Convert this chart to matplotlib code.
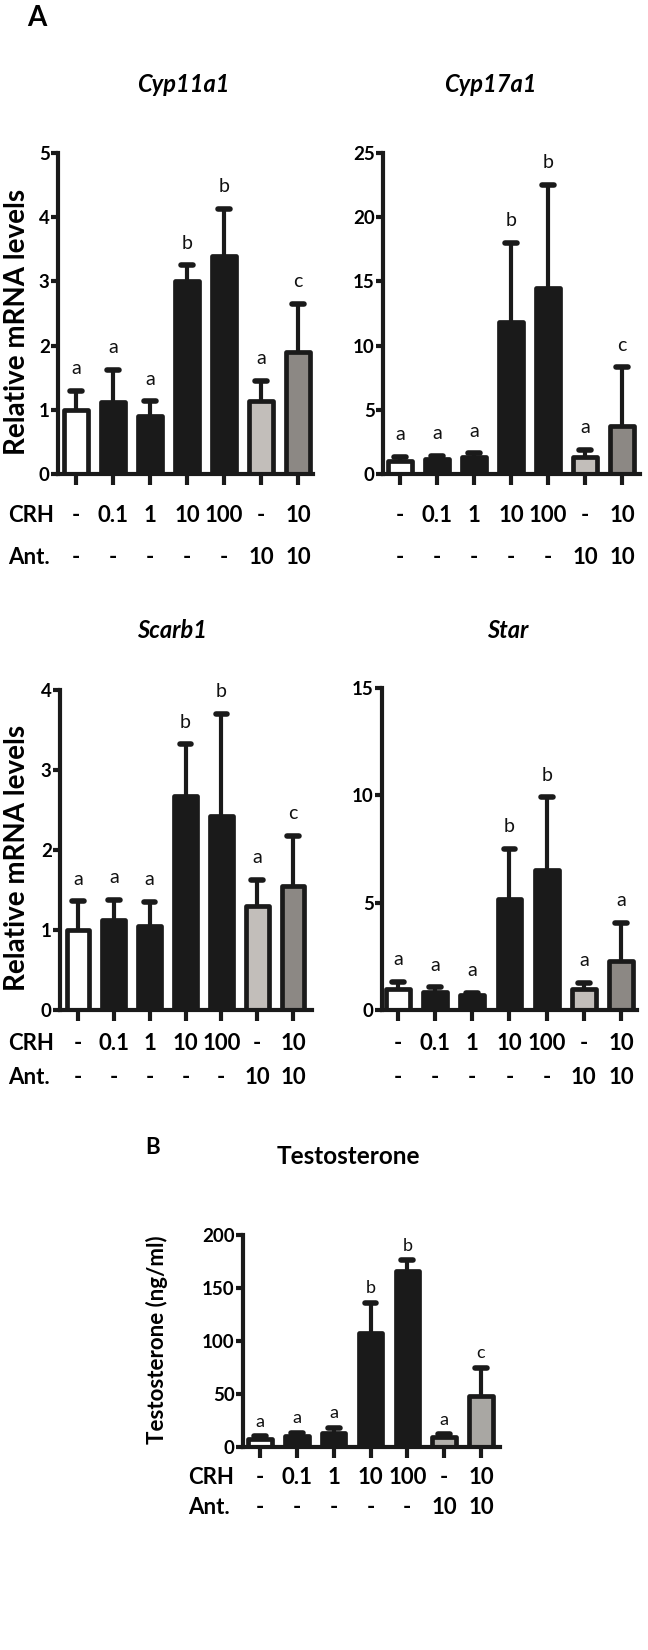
import matplotlib
matplotlib.use("Agg")
import matplotlib.pyplot as plt
from matplotlib import transforms

plt.rcParams["font.family"] = ["Lato", "DejaVu Sans"]

W, H = 648, 1650

# treatment rows under every panel
crh_row = ["-", "0.1", "1", "10", "100", "-", "10"]
ant_row = ["-", "-", "-", "-", "-", "10", "10"]

# panel A: relative mRNA levels (mean and top of error bar)
cyp11a1_mean = [1.0, 1.12, 0.9, 3.0, 3.4, 1.13, 1.9]
cyp11a1_err = [1.3, 1.62, 1.13, 3.25, 4.13, 1.45, 2.65]
cyp11a1_letters = ["a", "a", "a", "b", "b", "a", "c"]

cyp17a1_mean = [1.0, 1.15, 1.3, 11.8, 14.5, 1.35, 3.7]
cyp17a1_err = [1.35, 1.4, 1.6, 18.0, 22.5, 1.9, 8.3]
cyp17a1_letters = ["a", "a", "a", "b", "b", "a", "c"]

scarb1_mean = [1.0, 1.12, 1.05, 2.68, 2.43, 1.3, 1.55]
scarb1_err = [1.36, 1.38, 1.35, 3.32, 3.7, 1.63, 2.18]
scarb1_letters = ["a", "a", "a", "b", "b", "a", "c"]

star_mean = [1.0, 0.85, 0.7, 5.15, 6.5, 1.0, 2.3]
star_err = [1.3, 1.05, 0.8, 7.5, 9.9, 1.25, 4.05]
star_letters = ["a", "a", "a", "b", "b", "a", "a"]

# panel B: testosterone (ng/ml)
testo_mean = [8, 10, 13, 108, 166, 9, 48]
testo_err = [10, 13, 18, 136, 176, 12, 75]
testo_letters = ["a", "a", "a", "b", "b", "a", "c"]

DARK = "#1a1a1a"
fills_a = ["white", DARK, DARK, DARK, DARK, "#c2beba", "#8c8884"]
fills_b = ["white", DARK, DARK, DARK, DARK, "#b2b0ac", "#a9a7a3"]


def fy(py):
    return 1 - py / H


def make_axes(fig, left, right, y0, ytop, first, last):
    ax = fig.add_axes([left / W, fy(y0), (right - left) / W, (y0 - ytop) / H])
    s = (last - first) / 6
    ax.set_xlim(-(first - left) / s, 6 + (right - last) / s)
    return ax


def draw_panel(fig, ax, means, errs, letters, fills, ymax, step,
               tick_size=13.5, letter_size=14, letter_off=12):
    x = list(range(len(means)))
    ax.vlines(x, means, errs, color=DARK, lw=3, zorder=1)
    caps = ax.hlines(errs, [i - 0.16 for i in x], [i + 0.16 for i in x],
                     color=DARK, lw=4, zorder=1)
    caps.set_capstyle("round")
    ax.bar(x, means, width=0.64, color=fills, edgecolor=DARK, linewidth=3.4,
           joinstyle="round", zorder=2)
    for i, (t, lab) in enumerate(zip(errs, letters)):
        ax.annotate(lab, (i, t), xytext=(0, letter_off), textcoords="offset points",
                    ha="center", va="baseline", fontsize=letter_size, color="#111111")
    ax.set_ylim(0, ymax)
    ax.set_yticks([v * step for v in range(int(round(ymax / step)) + 1)])
    ax.set_xticks(x)
    ax.set_xticklabels([])
    for side in ("top", "right"):
        ax.spines[side].set_visible(False)
    for side in ("left", "bottom"):
        ax.spines[side].set_linewidth(3)
        ax.spines[side].set_color(DARK)
        ax.spines[side].set_zorder(3)
    ax.tick_params(axis="y", length=5, width=3, color=DARK, pad=1,
                   labelsize=tick_size)
    ax.tick_params(axis="x", length=8, width=3, color=DARK)
    for lab in ax.get_yticklabels():
        lab.set_fontweight("bold")
    ax.patch.set_alpha(0)


def draw_rows(fig, ax, y_crh, y_ant, size=16, label_x=None):
    tr = transforms.blended_transform_factory(ax.transData, fig.transFigure)
    for i, (c, a) in enumerate(zip(crh_row, ant_row)):
        ax.text(i, fy(y_crh), c, transform=tr, ha="center", va="center",
                fontsize=size, fontweight="bold")
        ax.text(i, fy(y_ant), a, transform=tr, ha="center", va="center",
                fontsize=size, fontweight="bold")
    if label_x is not None:
        fig.text(label_x / W, fy(y_crh), "CRH", ha="left", va="center",
                 fontsize=size, fontweight="bold")
        fig.text(label_x / W, fy(y_ant), "Ant.", ha="left", va="center",
                 fontsize=size, fontweight="bold")


fig = plt.figure(figsize=(W / 100, H / 100), dpi=100)

fig.text(27 / W, fy(18), "A", ha="left", va="center", fontsize=20, fontweight="bold")
fig.text(145 / W, fy(1147), "B", ha="left", va="center", fontsize=16, fontweight="bold")

# Cyp11a1
ax1 = make_axes(fig, 58, 313, 474, 153, 76, 298)
draw_panel(fig, ax1, cyp11a1_mean, cyp11a1_err, cyp11a1_letters, fills_a, 5, 1)
draw_rows(fig, ax1, 515, 557, label_x=8)
fig.text(183 / W, fy(85), "Cyp11a1", ha="center", va="center", fontsize=17,
         fontweight="bold", style="italic")
fig.text(17 / W, fy(322), "Relative mRNA levels", rotation=90, ha="center",
         va="center", fontsize=20, fontweight="bold")

# Cyp17a1
ax2 = make_axes(fig, 383, 640, 474, 153, 400, 622)
draw_panel(fig, ax2, cyp17a1_mean, cyp17a1_err, cyp17a1_letters, fills_a, 25, 5)
draw_rows(fig, ax2, 515, 557)
fig.text(490 / W, fy(85), "Cyp17a1", ha="center", va="center", fontsize=17,
         fontweight="bold", style="italic")

# Scarb1
ax3 = make_axes(fig, 60, 312, 1010, 690, 78, 293)
draw_panel(fig, ax3, scarb1_mean, scarb1_err, scarb1_letters, fills_a, 4, 1)
draw_rows(fig, ax3, 1043, 1077, label_x=8)
fig.text(172 / W, fy(630), "Scarb1", ha="center", va="center", fontsize=17,
         fontweight="bold", style="italic")
fig.text(17 / W, fy(858), "Relative mRNA levels", rotation=90, ha="center",
         va="center", fontsize=20, fontweight="bold")

# Star
ax4 = make_axes(fig, 382, 637, 1010, 688, 398, 621)
draw_panel(fig, ax4, star_mean, star_err, star_letters, fills_a, 15, 5)
draw_rows(fig, ax4, 1043, 1077)
fig.text(508 / W, fy(630), "Star", ha="center", va="center", fontsize=17,
         fontweight="bold", style="italic")

# Testosterone
ax5 = make_axes(fig, 243, 500, 1447, 1235, 260, 481)
draw_panel(fig, ax5, testo_mean, testo_err, testo_letters, fills_b, 200, 50,
           tick_size=13.5, letter_size=13, letter_off=7)
draw_rows(fig, ax5, 1477, 1508, size=16, label_x=188)
fig.text(348 / W, fy(1157), "Testosterone", ha="center", va="center", fontsize=17.5,
         fontweight="bold")
fig.text(157 / W, fy(1340), "Testosterone (ng/ml)", rotation=90, ha="center",
         va="center", fontsize=16, fontweight="bold")

fig.savefig("out.png", dpi=100)
